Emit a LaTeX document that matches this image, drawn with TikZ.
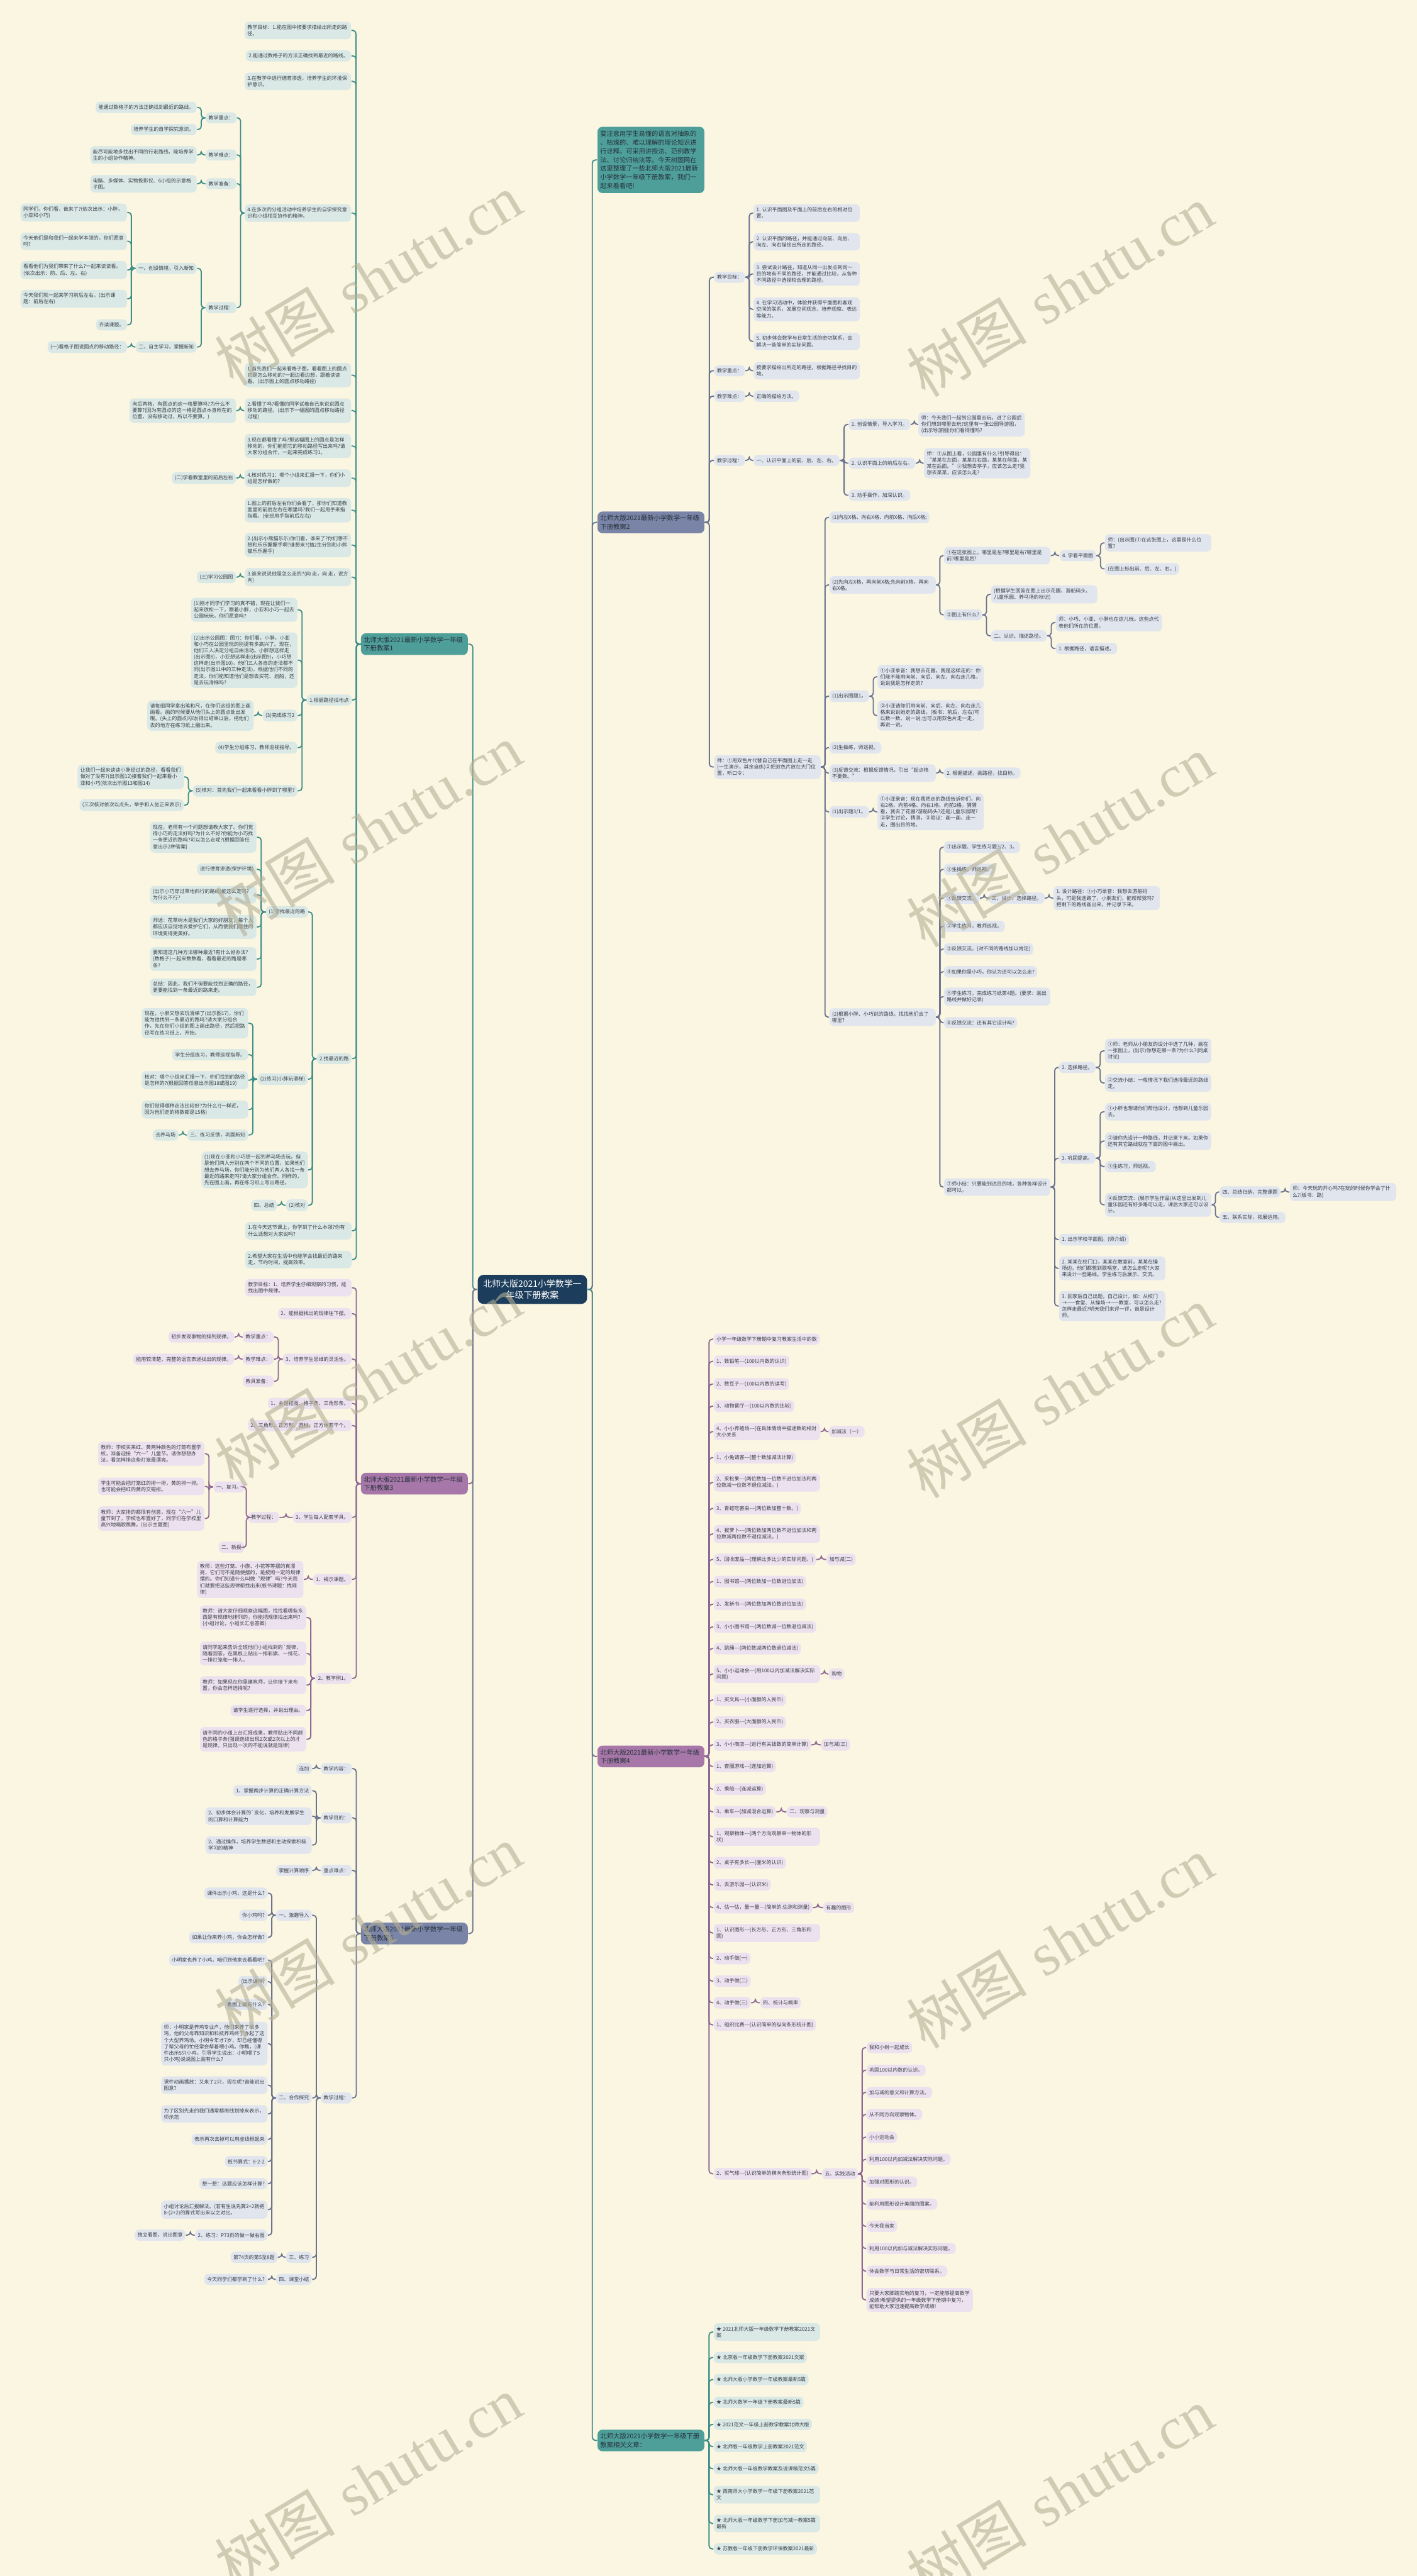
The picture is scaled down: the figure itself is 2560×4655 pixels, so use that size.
\documentclass[tikz,border=0pt]{standalone}
\usepackage{fontspec}
\usetikzlibrary{calc}
\newfontfamily\cjk{Noto Sans CJK SC}
\newfontfamily\wmserif{Liberation Serif}
\XeTeXlinebreaklocale "zh"
\XeTeXlinebreakskip=0pt plus 0.4pt
\definecolor{bgc}{HTML}{FAF6E2}
\definecolor{tealL}{HTML}{DAE8E6}
\definecolor{slateL}{HTML}{E1E5EE}
\definecolor{purpL}{HTML}{ECE1EE}
\definecolor{tealD}{HTML}{3D8E89}
\definecolor{slateD}{HTML}{6A7390}
\definecolor{purpD}{HTML}{8E6893}
\definecolor{hubTc}{HTML}{4E9F9A}
\definecolor{hubSc}{HTML}{7A84A6}
\definecolor{hubPc}{HTML}{A677A8}
\definecolor{ctrc}{HTML}{1C3D5B}
\definecolor{txt}{HTML}{3A3F47}
\definecolor{hubtxt}{HTML}{28323C}
\definecolor{wmc}{HTML}{B5B096}
\newcommand\lf{\cjk\fontsize{2.58pt}{3.27pt}\selectfont}
\newcommand\hf{\cjk\fontsize{3.35pt}{4.3pt}\selectfont}
\newcommand\fitt[1]{\setbox0=\hbox{#1}\ifdim\wd0>1.82cm\relax\parbox{1.82cm}{\raggedright\XeTeXlinebreaklocale "zh"\XeTeXlinebreakskip=0pt plus 0.4pt\relax #1}\else\box0\fi}
\newcommand\mmn[6]{\node[#1,anchor=#2] (#3) at (#4,#5) {\fitt{#6}};}
\newcommand\mml[5]{\mmn{#1}{east}{#2}{#3}{#4}{#5}}
\newcommand\mmr[5]{\mmn{#1}{west}{#2}{#3}{#4}{#5}}
\newcommand\edL[3]{\draw[#1] (#2.west) -- ($(#2.west)!.5!(#2.west-|#3.east)$) |- (#3.east);}
\newcommand\edR[3]{\draw[#1] (#2.east) -- ($(#2.east)!.5!(#2.east-|#3.west)$) |- (#3.west);}
\tikzset{
  base/.style={rounded corners=2.2pt, inner xsep=0.05cm, inner ysep=0.058cm, font=\lf, text=txt},
  T/.style={base, fill=tealL},
  S/.style={base, fill=slateL},
  P/.style={base, fill=purpL},
  lT/.style={draw=tealD, line width=0.6pt, rounded corners=1.6pt},
  lS/.style={draw=slateD, line width=0.6pt, rounded corners=1.6pt},
  lP/.style={draw=purpD, line width=0.6pt, rounded corners=1.6pt},
  hub/.style={rounded corners=2.5pt, inner xsep=0.05cm, inner ysep=0.065cm, font=\hf, text=hubtxt, align=left, text width=1.83cm},
  hubT/.style={hub, fill=hubTc},
  hubS/.style={hub, fill=hubSc},
  hubP/.style={hub, fill=hubPc},
  wm/.style={rotate=31, text=wmc, opacity=0.6, font=\fontsize{31pt}{31pt}\selectfont}
}
\begin{document}
\begin{tikzpicture}[x=0.01cm,y=-0.01cm]
\useasboundingbox (0,0) rectangle (2560,4655);
\fill[bgc] (0,0) rectangle (2560,4655);

% ---------- centre ----------
\node[fill=ctrc, text=white, rounded corners=3pt, inner xsep=0.1cm, inner ysep=0.09cm, align=center, font=\cjk\fontsize{4.5pt}{5.6pt}\selectfont] (ctr) at (962,2330) {北师大版2021小学数学一\\年级下册教案};

% ---------- hubs ----------
\node[hubT,anchor=east] (h1) at (846,1164) {北师大版2021最新小学数学一年级\\下册教案1};
\node[hubP,anchor=east] (h3) at (846,2681) {北师大版2021最新小学数学一年级\\下册教案3};
\node[hubS,anchor=east] (h5) at (846,3494) {北师大版2021最新小学数学一年级\\下册教案5};
\node[hubT,anchor=west,font=\cjk\fontsize{3.3pt}{4.45pt}\selectfont,inner ysep=0.075cm] (intro) at (1079,289) {要注意用学生易懂的语言对抽象的\\、枯燥的、难以理解的理论知识进\\行诠释。可采用讲授法、范例教学\\法、讨论归纳法等。今天树图网在\\这里整理了一些北师大版2021最新\\小学数学一年级下册教案，我们一\\起来看看吧!};
\node[hubS,anchor=west] (h2) at (1079,944) {北师大版2021最新小学数学一年级\\下册教案2};
\node[hubP,anchor=west] (h4) at (1079,3174) {北师大版2021最新小学数学一年级\\下册教案4};
\node[hubT,anchor=west] (h6) at (1079,4410) {北师大版2021小学数学一年级下册\\教案相关文章：};

\edL{lT}{ctr}{h1}
\edL{lP}{ctr}{h3}
\edL{lS}{ctr}{h5}
\edR{lT}{ctr}{intro}
\edR{lS}{ctr}{h2}
\edR{lP}{ctr}{h4}
\edR{lT}{ctr}{h6}

% ---------- 教案1 (left, teal) ----------
\mml{T}{A1}{635}{55}{教学目标：1.能在图中按要求描绘出所走的路径。}
\mml{T}{A2}{635}{101}{2.能通过数格子的方法正确找到最近的路线。}
\mml{T}{A3}{635}{147}{3.在教学中进行德育渗透，培养学生的环境保护意识。}
\mml{T}{A4}{635}{385}{4.在多次的分组活动中培养学生的自学探究意识和小组相互协作的精神。}
\mml{T}{Ab1}{428}{213}{教学重点：}
\mml{T}{Ac1}{356}{194}{能通过数格子的方法正确找到最近的路线。}
\mml{T}{Ac2}{356}{234}{培养学生的自学探究意识。}
\mml{T}{Ab2}{428}{280}{教学难点：}
\mml{T}{Ac3}{356}{280}{能尽可能地多找出不同的行走路线。能培养学生的小组协作精神。}
\mml{T}{Ab3}{428}{332}{教学准备：}
\mml{T}{Ac4}{356}{332}{电脑、多媒体、实物投影仪、6小组的示意格子图。}
\mml{T}{Ab4}{428}{556}{教学过程：}
\mml{T}{Ac5}{356}{485}{一、创设情境，引入新知}
\mml{T}{Ac6}{356}{627}{二、自主学习，掌握新知}
\mml{T}{Ad1}{230}{384}{同学们，你们看，谁来了?(依次出示：小胖，小亚和小巧)}
\mml{T}{Ad2}{230}{436}{今天他们是和我们一起来学本领的，你们愿意吗?}
\mml{T}{Ad3}{230}{488}{看看他们为我们带来了什么?一起来读读看。(依次出示：前、后、左、右)}
\mml{T}{Ad4}{230}{540}{今天我们就一起来学习前后左右。(出示课题：前后左右)}
\mml{T}{Ad5}{230}{587}{齐读课题。}
\mml{T}{Ad6}{230}{627}{(一)看格子图说圆点的移动路径：}
\mml{T}{A5}{635}{678}{1.首先我们一起来看格子图。看看图上的圆点它是怎么移动的?一起边看边想，跟着读读看。(出示图上的圆点移动路径)}
\mml{T}{A6}{635}{742}{2.看懂了吗?看懂的同学试着自己来说说圆点移动的路径。(出示下一幅图的圆点移动路径过程)}
\mml{T}{A6c}{427}{742}{向后两格，有圆点的这一格要算吗?为什么不要算?(因为有圆点的这一格是圆点本身所在的位置，没有移动过，所以不要算。)}
\mml{T}{A7}{635}{806}{3.现在都看懂了吗?那这幅图上的圆点是怎样移动的，你们能把它的移动路径写出来吗?请大家分组合作，一起来完成练习1。}
\mml{T}{A8}{635}{864}{4.核对练习1：哪个小组来汇报一下，你们小组是怎样做的?}
\mml{T}{A8c}{427}{864}{(二)学看教室里的前后左右}
\mml{T}{A9}{635}{922}{1.图上的前后左右你们会看了，那你们知道教室里的前后左右在哪里吗?我们一起用手来指指看。(全班用手指前后左右)}
\mml{T}{A10}{635}{985}{2.(出示小熊猫乐乐)你们看，谁来了?你们想不想和乐乐握握手啊?谁想来?(抽2生分别和小熊猫乐乐握手)}
\mml{T}{A11}{635}{1043}{3.谁来说说他是怎么走的?(向 走，向 走，说方向)}
\mml{T}{A11c}{427}{1043}{(三)学习公园图}
\mml{T}{A12}{636}{1265}{1.根据路径找地点}
\mml{T}{Ae1}{538}{1102}{(1)刚才同学们学习的真不错，现在让我们一起来放松一下，跟着小胖，小亚和小巧一起去公园玩玩，你们愿意吗?}
\mml{T}{Ae2}{538}{1193}{(2)出示公园图：图7)：你们看，小胖，小亚和小巧在公园里玩的别提有多高兴了。现在，他们三人决定分组自由活动。小胖想这样走(出示图8)，小亚想这样走(出示图9)，小巧想这样走(出示图10)。他们三人各自的走法都不同(出示图11中的三种走法)，根据他们不同的走法，你们能知道他们是想去买花、划船，还是去玩滑梯吗?}
\mml{T}{Ae3}{538}{1293}{(3)完成练习2}
\mml{T}{Ae3c}{459}{1293}{请每组同学拿出笔和尺，在你们这组的图上画画看。画的时候要从他们头上的圆点处出发哦。(头上的圆点闪动)得出结果以后，把他们去的地方在练习纸上圈出来。}
\mml{T}{Ae4}{538}{1351}{(4)学生分组练习，教师巡视指导。}
\mml{T}{Ae5}{538}{1429}{(5)核对：首先我们一起来看看小胖到了哪里?}
\mml{T}{Af1}{333}{1404}{让我们一起来读读小胖经过的路径，看看我们做对了没有?(出示图12)接着我们一起来看小亚和小巧(依次出示图13和图14)}
\mml{T}{Af2}{333}{1455}{(三次核对依次以点头，举手和人坐正来表示)}
\mml{T}{A13}{636}{1913}{2.找最近的路}
\mml{T}{Ag1}{557}{1648}{(1)学找最近的路}
\mml{T}{Ag1a}{464}{1513}{现在，老师有一个问题想请教大家了。你们觉得小巧的走法好吗?为什么不好?你能为小巧找一条更近的路吗?可以怎么走呢?(根据回答任意出示2种答案)}
\mml{T}{Ag1b}{464}{1571}{进行德育渗透(保护环境)}
\mml{T}{Ag1c}{464}{1617}{(出示小巧穿过草地斜行的路线)能这么走吗?为什么不行?}
\mml{T}{Ag1d}{464}{1675}{师述：花草树木是我们大家的好朋友，每个人都应该自觉地去爱护它们，从而使我们居住的环境变得更美好。}
\mml{T}{Ag1e}{464}{1733}{要知道这几种方法哪种最近?有什么好办法?(数格子)一起来数数看，看看最近的路是哪条?}
\mml{T}{Ag1f}{464}{1784}{总结：因此，我们不但要能找到正确的路径，更要能找到一条最近的路来走。}
\mml{T}{Ag2}{557}{1950}{(2)练习(小胖玩滑梯)}
\mml{T}{Ag2a}{449}{1849}{现在，小胖又想去玩滑梯了(出示图17)，你们能为他找到一条最近的路吗?请大家分组合作，先在你们小组的图上画出路径，然后把路径写在练习纸上，开始。}
\mml{T}{Ag2b}{449}{1906}{学生分组练习，教师巡视指导。}
\mml{T}{Ag2c}{449}{1952}{核对：哪个小组来汇报一下，你们找到的路径是怎样的?(根据回答任意出示图18或图19)}
\mml{T}{Ag2d}{449}{2005}{你们觉得哪种走法比较好?为什么?(一样近，因为他们走的格数都是15格)}
\mml{T}{Ag2e}{449}{2051}{三、练习反馈，巩固新知}
\mml{T}{Ag2f}{323}{2051}{去养马场}
\mml{T}{Ag3}{557}{2114}{(1)现在小亚和小巧想一起到养马场去玩。但是他们两人分别在两个不同的位置，如果他们想去养马场，你们能分别为他们两人各找一条最近的路来走吗?请大家分组合作。同样的，先在图上画，再在练习纸上写出路径。}
\mml{T}{Ag4}{557}{2178}{(2)核对}
\mml{T}{Ag4c}{501}{2178}{四、总结}
\mml{T}{A14}{636}{2224}{1.在今天这节课上，你学到了什么本领?你有什么话想对大家说吗?}
\mml{T}{A15}{636}{2276}{2.希望大家在生活中也能学会找最近的路来走，节约时间，提高效率。}

\foreach \c in {A1,A2,A3,A4,A5,A6,A7,A8,A9,A10,A11,A12,A13,A14,A15}{\edL{lT}{h1}{\c}}
\foreach \c in {Ab1,Ab2,Ab3,Ab4}{\edL{lT}{A4}{\c}}
\edL{lT}{Ab1}{Ac1}\edL{lT}{Ab1}{Ac2}\edL{lT}{Ab2}{Ac3}\edL{lT}{Ab3}{Ac4}
\edL{lT}{Ab4}{Ac5}\edL{lT}{Ab4}{Ac6}
\foreach \c in {Ad1,Ad2,Ad3,Ad4,Ad5}{\edL{lT}{Ac5}{\c}}
\edL{lT}{Ac6}{Ad6}
\edL{lT}{A6}{A6c}\edL{lT}{A8}{A8c}\edL{lT}{A11}{A11c}
\foreach \c in {Ae1,Ae2,Ae3,Ae4,Ae5}{\edL{lT}{A12}{\c}}
\edL{lT}{Ae3}{Ae3c}\edL{lT}{Ae5}{Af1}\edL{lT}{Ae5}{Af2}
\foreach \c in {Ag1,Ag2,Ag3,Ag4}{\edL{lT}{A13}{\c}}
\foreach \c in {Ag1a,Ag1b,Ag1c,Ag1d,Ag1e,Ag1f}{\edL{lT}{Ag1}{\c}}
\foreach \c in {Ag2a,Ag2b,Ag2c,Ag2d,Ag2e}{\edL{lT}{Ag2}{\c}}
\edL{lT}{Ag2e}{Ag2f}\edL{lT}{Ag4}{Ag4c}

% ---------- 教案2 (right, slate) ----------
\mmr{S}{B1}{1290}{501}{教学目标：}
\mmr{S}{Bq1}{1361}{385}{1. 认识平面图及平面上的前后左右的相对位置。}
\mmr{S}{Bq2}{1361}{437}{2. 认识平面的路径，并能通过向前、向后、向左、向右描绘出所走的路径。}
\mmr{S}{Bq3}{1361}{495}{3. 尝试设计路径，知道从同一出发点到同一目的地有不同的路径，并能通过比较，从各种不同路径中选择较合理的路径。}
\mmr{S}{Bq4}{1361}{559}{4. 在学习活动中，体验并获得平面图和客观空间的联系，发展空间观念，培养观察、表达等能力。}
\mmr{S}{Bq5}{1361}{617}{5. 初步体会数学与日常生活的密切联系，会解决一些简单的实际问题。}
\mmr{S}{B2}{1290}{670}{教学重点：}
\mmr{S}{B2c}{1361}{670}{按要求描绘出所走的路径，根据路径寻找目的地。}
\mmr{S}{B3}{1290}{716}{教学难点：}
\mmr{S}{B3c}{1361}{716}{正确的描绘方法。}
\mmr{S}{B4}{1290}{832}{教学过程：}
\mmr{S}{Br1}{1361}{832}{一、认识平面上的前、后、左、右。}
\mmr{S}{Bs1}{1533}{767}{1. 创设情景，导入学习。}
\mmr{S}{Bs1c}{1659}{767}{师：今天我们一起到公园里去玩，进了公园后你们想到哪里去玩?这里有一张公园导游图，(出示导游图)你们看得懂吗?}
\mmr{S}{Bs2}{1533}{837}{2. 认识平面上的前后左右。}
\mmr{S}{Bs2c}{1669}{837}{师：①从图上看，公园里有什么?引导得出：“某某在左面，某某在右面，某某在前面，某某在后面。”②我想去亭子，应该怎么走?我想去某某，应该怎么走?}
\mmr{S}{Bs3}{1533}{895}{3. 动手操作，加深认识。}
\mmr{S}{B5}{1290}{1386}{师：①用双色片代替自己在平面图上走一走(一生演示，其余自练)②把双色片放在大门位置，听口令：}
\mmr{S}{Bt1}{1498}{935}{(1)向左X格、向右X格、向前X格、向后X格;}
\mmr{S}{Bt2}{1498}{1057}{(2)先向左X格，再向前X格;先向前X格，再向右X格。}
\mmr{S}{Bu1}{1705}{1004}{①在这张图上，哪里是左?哪里是右?哪里是前?哪里是后?}
\mmr{S}{Bu1c}{1914}{1004}{4. 学看平面图}
\mmr{S}{Bv1}{1996}{981}{师：(出示图)①在这张图上，这里是什么位置?}
\mmr{S}{Bv2}{1996}{1028}{(在图上标出前、后、左、右。)}
\mmr{S}{Bu2}{1705}{1111}{②图上有什么?}
\mmr{S}{Bw1}{1790}{1074}{(根据学生回答在图上出示花圃、游船码头、儿童乐园、养马场的标记)}
\mmr{S}{Bw2}{1790}{1149}{二、认识、描述路径。}
\mmr{S}{Bx1}{1907}{1125}{师：小巧、小亚、小胖也在这儿玩。这些点代表他们所在的位置。}
\mmr{S}{Bx2}{1907}{1172}{1. 根据路径，语言描述。}
\mmr{S}{Bt3}{1498}{1258}{(1)出示图题1。}
\mmr{S}{By1}{1585}{1223}{①小亚录音：我想去花圃，我是这样走的：你们能不能用向前、向后、向左、向右走几格，说说我是怎样走的?}
\mmr{S}{By2}{1585}{1293}{②小亚请你们用向前、向后、向左、向右走几格来说说她走的路线。(板书：前后，左右)可以数一数、说一说;也可以用双色片走一走，再说一说。}
\mmr{S}{Bt4}{1498}{1351}{(2)生操练，师巡视。}
\mmr{S}{Bt5}{1498}{1397}{(3)反馈交流：根据反馈情况，引出“起点格不要数。”}
\mmr{S}{Bt5c}{1705}{1397}{2. 根据描述，画路径，找目标。}
\mmr{S}{Bt6}{1498}{1467}{(1)出示题3/1。}
\mmr{S}{Bt6c}{1585}{1467}{①小亚录音：现在我把走的路线告诉你们，向右2格、向前4格、向右1格、向前2格。猜猜看，我去了花圃?游船码头?还是儿童乐园呢?②学生讨论，猜测。③验证：画一画、走一走，圈出目的地。}
\mmr{S}{Bt7}{1498}{1838}{(2)根据小胖、小巧说的路线，找找他们去了哪里?}
\mmr{S}{Bz1}{1705}{1531}{①出示题、学生练习题3/2、3。}
\mmr{S}{Bz2}{1705}{1571}{②生操练，师巡视。}
\mmr{S}{Bz3}{1705}{1623}{③反馈交流。}
\mmr{S}{Bz3a}{1786}{1623}{三、设计、选择路径。}
\mmr{S}{Bz3b}{1903}{1623}{1. 设计路径：①小巧录音：我想去游船码头，可是我迷路了，小朋友们，能帮帮我吗? 把剩下的路线画出来，并记录下来。}
\mmr{S}{Bz4}{1705}{1674}{②学生练习，教师巡视。}
\mmr{S}{Bz5}{1705}{1715}{③反馈交流。(对不同的路线加以肯定)}
\mmr{S}{Bz6}{1705}{1756}{④如果你是小巧，你认为还可以怎么走?}
\mmr{S}{Bz7}{1705}{1801}{⑤学生练习，完成练习纸第4题。(要求：画出路线并做好记录)}
\mmr{S}{Bz8}{1705}{1848}{⑥反馈交流：还有其它设计吗?}
\mmr{S}{Bz9}{1705}{2145}{⑦师小结：只要能到达目的地，各种各样设计都可以。}
\mmr{S}{Ba1}{1913}{1929}{2. 选择路径。}
\mmr{S}{Ba1a}{1996}{1899}{①师：老师从小朋友的设计中选了几种，画在一张图上，(出示)你想走哪一条?为什么?(同桌讨论)}
\mmr{S}{Ba1b}{1996}{1957}{②交流小结：一般情况下我们选择最近的路线走。}
\mmr{S}{Ba2}{1913}{2093}{3. 巩固提高。}
\mmr{S}{Bb1}{1996}{2009}{①小胖也想请你们帮他设计，他想到儿童乐园去。}
\mmr{S}{Bb2}{1996}{2062}{②请你先设计一种路线，并记录下来。如果你还有其它路线就在下面的图中画出。}
\mmr{S}{Bb3}{1996}{2108}{③生练习，师巡视。}
\mmr{S}{Bb4}{1996}{2177}{④反馈交流：(展示学生作品)从这里出发到儿童乐园还有好多路可以走，课后大家还可以设计。}
\mmr{S}{Bc1}{2203}{2154}{四、总结归纳，完整课题}
\mmr{S}{Bc1c}{2330}{2154}{师：今天玩的开心吗?在玩的时候你学会了什么?(板书：路)}
\mmr{S}{Bc2}{2203}{2200}{五、联系实际，拓展运用。}
\mmr{S}{Ba3}{1913}{2240}{1. 出示学校平面图。(师介绍)}
\mmr{S}{Ba4}{1913}{2292}{2. 某某在校门口，某某在教室前，某某在操场边。他们都想到歌唱室，该怎么走呢?大家来设计一些路线。学生练习后展示、交流。}
\mmr{S}{Ba5}{1913}{2360}{3. 回家后自己出题，自己设计。如：从校门→——食堂、从操场→——教室，可以怎么走?怎样走最近?明天我们来评一评，谁是设计师。}

\foreach \c in {B1,B2,B3,B4,B5}{\edR{lS}{h2}{\c}}
\foreach \c in {Bq1,Bq2,Bq3,Bq4,Bq5}{\edR{lS}{B1}{\c}}
\edR{lS}{B2}{B2c}\edR{lS}{B3}{B3c}\edR{lS}{B4}{Br1}
\foreach \c in {Bs1,Bs2,Bs3}{\edR{lS}{Br1}{\c}}
\edR{lS}{Bs1}{Bs1c}\edR{lS}{Bs2}{Bs2c}
\foreach \c in {Bt1,Bt2,Bt3,Bt4,Bt5,Bt6,Bt7}{\edR{lS}{B5}{\c}}
\edR{lS}{Bt2}{Bu1}\edR{lS}{Bt2}{Bu2}\edR{lS}{Bu1}{Bu1c}
\edR{lS}{Bu1c}{Bv1}\edR{lS}{Bu1c}{Bv2}
\edR{lS}{Bu2}{Bw1}\edR{lS}{Bu2}{Bw2}\edR{lS}{Bw2}{Bx1}\edR{lS}{Bw2}{Bx2}
\edR{lS}{Bt3}{By1}\edR{lS}{Bt3}{By2}\edR{lS}{Bt5}{Bt5c}\edR{lS}{Bt6}{Bt6c}
\foreach \c in {Bz1,Bz2,Bz3,Bz4,Bz5,Bz6,Bz7,Bz8,Bz9}{\edR{lS}{Bt7}{\c}}
\edR{lS}{Bz3}{Bz3a}\edR{lS}{Bz3a}{Bz3b}
\foreach \c in {Ba1,Ba2,Ba3,Ba4,Ba5}{\edR{lS}{Bz9}{\c}}
\edR{lS}{Ba1}{Ba1a}\edR{lS}{Ba1}{Ba1b}
\foreach \c in {Bb1,Bb2,Bb3,Bb4}{\edR{lS}{Ba2}{\c}}
\edR{lS}{Bb4}{Bc1}\edR{lS}{Bb4}{Bc2}\edR{lS}{Bc1}{Bc1c}

% ---------- 教案3 (left, purple) ----------
\mml{P}{C1}{636}{2327}{教学目标：1、培养学生仔细观察的习惯，能找出图中规律。}
\mml{P}{C2}{636}{2374}{2、能根据找出的规律往下摆。}
\mml{P}{C3}{636}{2456}{3、培养学生思维的灵活性。}
\mml{P}{Cm1}{495}{2416}{教学重点：}
\mml{P}{Cm1c}{424}{2416}{初步发现事物的排列规律。}
\mml{P}{Cm2}{495}{2456}{教学难点：}
\mml{P}{Cm2c}{424}{2456}{能用较清楚、完整的语言表述找出的规律。}
\mml{P}{Cm3}{495}{2496}{教具准备：}
\mml{P}{C4}{636}{2536}{1、主题挂图、格子条、三角形条。}
\mml{P}{C5}{636}{2576}{2、三角形、正方形、圆柱、正方体若干个。}
\mml{P}{C6}{636}{2742}{3、学生每人配套学具。}
\mml{P}{C6c}{505}{2742}{教学过程：}
\mml{P}{Cn1}{442}{2687}{一、复习。}
\mml{P}{Cn1a}{370}{2627}{教师：学校买来红、黄两种颜色的灯笼布置学校，准备迎接“六一”儿童节。请你想想办法，看怎样排这些灯笼最漂亮。}
\mml{P}{Cn1b}{370}{2686}{学生可能会把灯笼红的排一排，黄的排一排。也可能会把红的黄的交错排。}
\mml{P}{Cn1c}{370}{2744}{教师：大家排的都很有创意，现在“六一”儿童节到了，学校也布置好了，同学们在学校里高兴地唱歌跳舞。(出示主题图)}
\mml{P}{Cn2}{442}{2796}{二、新授}
\mml{P}{C7}{636}{2854}{1、揭示课题。}
\mml{P}{C7c}{549}{2854}{教师：这些灯笼、小旗、小花等等摆的真漂亮，它们可不是随便摆的，是按照一定的规律摆的。你们知道什么叫做“规律”吗?今天我们就要把这些规律都找出来(板书课题：找规律)}
\mml{P}{C8}{636}{3033}{2、教学例1。}
\mml{P}{C8a}{554}{2923}{教师：请大家仔细观察这幅图，找找看哪些东西是有规律地排列的，你能把规律找出来吗?(小组讨论，小组长汇总答案)}
\mml{P}{C8b}{554}{2988}{请同学起来告诉全班他们小组找到的`规律，随着回答，在黑板上贴出一排彩旗、一排花、一排灯笼和一排人。}
\mml{P}{C8c}{554}{3045}{教师：如果现在你是建筑师，让你接下来布置，你会怎样选择呢?}
\mml{P}{C8d}{554}{3091}{请学生逐行选择，并说出理由。}
\mml{P}{C8e}{554}{3143}{请不同的小组上台汇报成果，教师贴出不同颜色的格子条(强调连续出现2次或2次以上的才是规律，只出现一次的不能说就是规律)}

\foreach \c in {C1,C2,C3,C4,C5,C6,C7,C8}{\edL{lP}{h3}{\c}}
\foreach \c in {Cm1,Cm2,Cm3}{\edL{lP}{C3}{\c}}
\edL{lP}{Cm1}{Cm1c}\edL{lP}{Cm2}{Cm2c}
\edL{lP}{C6}{C6c}\edL{lP}{C6c}{Cn1}\edL{lP}{C6c}{Cn2}
\foreach \c in {Cn1a,Cn1b,Cn1c}{\edL{lP}{Cn1}{\c}}
\edL{lP}{C7}{C7c}
\foreach \c in {C8a,C8b,C8c,C8d,C8e}{\edL{lP}{C8}{\c}}

% ---------- 教案5 (left, slate) ----------
\mml{S}{E1}{636}{3196}{教学内容：}
\mml{S}{E1c}{564}{3196}{连加}
\mml{S}{E2}{636}{3285}{教学目的：}
\mml{S}{E2a}{564}{3236}{1、掌握两步计算的正确计算方法}
\mml{S}{E2b}{564}{3282}{2、初步体会计算的`变化，培养和发展学生的口算和计算能力}
\mml{S}{E2c}{564}{3334}{2、通过操作，培养学生数感和主动探索积极学习的精神}
\mml{S}{E3}{636}{3380}{重点难点：}
\mml{S}{E3c}{564}{3380}{掌握计算顺序}
\mml{S}{E4}{636}{3791}{教学过程：}
\mml{S}{Ep1}{564}{3461}{一、激趣导入}
\mml{S}{Ep1a}{484}{3421}{课件出示小鸡，这是什么?}
\mml{S}{Ep1b}{484}{3461}{你小鸡吗?}
\mml{S}{Ep1c}{484}{3501}{如果让你来养小鸡，你会怎样做?}
\mml{S}{Ep2}{564}{3791}{二、合作探究}
\mml{S}{Eq1}{484}{3542}{小明家也养了小鸡，咱们到他家去看看吧?}
\mml{S}{Eq2}{484}{3581}{(出示课件)}
\mml{S}{Eq3}{484}{3622}{看图上画有什么?}
\mml{S}{Eq4}{484}{3693}{师：小明家是养鸡专业户，他们家养了很多鸡，他的父母靠知识和科技养鸡终于办起了这个大型养鸡场。小明今年才7岁，却已经懂得了帮父母的忙经常会帮着喂小鸡。你瞧，(课件出示5只小鸡，引导学生说出：小明喂了5只小鸡)说说图上画有什么?}
\mml{S}{Eq5}{484}{3768}{课件动画播放：又来了2只，现在呢?谁能说出图意?}
\mml{S}{Eq6}{484}{3820}{为了区别先走的我们通常都用线划掉来表示，师示范}
\mml{S}{Eq7}{484}{3866}{表示再次去掉可以用虚线框起来}
\mml{S}{Eq8}{484}{3906}{板书算式：8-2-2}
\mml{S}{Eq9}{484}{3946}{想一想：这题应该怎样计算?}
\mml{S}{Eq10}{484}{3993}{小组讨论后汇报解法。(若有生说先算2+2就把8-(2+2)的算式写出来以之对比。}
\mml{S}{Eq11}{484}{4039}{2、练习：P73页的做一做右图}
\mml{S}{Eq11c}{336}{4039}{独立看图，说出图意}
\mml{S}{Ep3}{564}{4079}{三、练习}
\mml{S}{Ep3c}{502}{4079}{第74页的第5至8题}
\mml{S}{Ep4}{564}{4119}{四、课堂小结}
\mml{S}{Ep4c}{484}{4119}{今天同学们都学到了什么?}

\foreach \c in {E1,E2,E3,E4}{\edL{lS}{h5}{\c}}
\edL{lS}{E1}{E1c}\edL{lS}{E3}{E3c}
\foreach \c in {E2a,E2b,E2c}{\edL{lS}{E2}{\c}}
\foreach \c in {Ep1,Ep2,Ep3,Ep4}{\edL{lS}{E4}{\c}}
\foreach \c in {Ep1a,Ep1b,Ep1c}{\edL{lS}{Ep1}{\c}}
\foreach \c in {Eq1,Eq2,Eq3,Eq4,Eq5,Eq6,Eq7,Eq8,Eq9,Eq10,Eq11}{\edL{lS}{Ep2}{\c}}
\edL{lS}{Eq11}{Eq11c}\edL{lS}{Ep3}{Ep3c}\edL{lS}{Ep4}{Ep4c}

% ---------- 教案4 (right, purple) ----------
\mmr{P}{D1}{1289}{2420}{小学一年级数学下册期中复习教案生活中的数}
\mmr{P}{D2}{1289}{2460}{1、数铅笔---(100以内数的认识)}
\mmr{P}{D3}{1289}{2501}{2、数豆子---(100以内数的读写)}
\mmr{P}{D4}{1289}{2541}{3、动物餐厅---(100以内数的比较)}
\mmr{P}{D5}{1289}{2587}{4、小小养殖场---(在具体情境中描述数的相对大小关系}
\mmr{P}{D5c}{1497}{2587}{加减法（一）}
\mmr{P}{D6}{1289}{2634}{1、小兔请客---(整十数加减法计算)}
\mmr{P}{D7}{1289}{2679}{2、采松果---(两位数加一位数不进位加法和两位数减一位数不退位减法。)}
\mmr{P}{D8}{1289}{2726}{3、青蛙吃害虫---(两位数加整十数。)}
\mmr{P}{D9}{1289}{2772}{4、拔萝卜---(两位数加两位数不进位加法和两位数减两位数不退位减法。)}
\mmr{P}{D10}{1289}{2818}{5、回收废品---(理解比多比少的实际问题。)}
\mmr{P}{D10c}{1493}{2818}{加与减(二)}
\mmr{P}{D11}{1289}{2858}{1、图书馆---(两位数加一位数进位加法)}
\mmr{P}{D12}{1289}{2899}{2、发新书---(两位数加两位数进位加法)}
\mmr{P}{D13}{1289}{2940}{3、小小图书馆---(两位数减一位数退位减法)}
\mmr{P}{D14}{1289}{2979}{4、跳绳---(两位数减两位数退位减法)}
\mmr{P}{D15}{1289}{3025}{5、小小运动会---(用100以内加减法解决实际问题)}
\mmr{P}{D15c}{1497}{3025}{购物}
\mmr{P}{D16}{1289}{3072}{1、买文具---(小面额的人民币)}
\mmr{P}{D17}{1289}{3112}{2、买衣服---(大面额的人民币)}
\mmr{P}{D18}{1289}{3153}{3、小小商店---(进行有关钱数的简单计算)}
\mmr{P}{D18c}{1483}{3153}{加与减(三)}
\mmr{P}{D19}{1289}{3192}{1、套圈游戏---(连加运算)}
\mmr{P}{D20}{1289}{3233}{2、乘船---(连减运算)}
\mmr{P}{D21}{1289}{3274}{3、乘车---(加减混合运算)}
\mmr{P}{D21c}{1421}{3274}{二、观察与测量}
\mmr{P}{D22}{1289}{3319}{1、观察物体---(两个方向观察单一物体的形状)}
\mmr{P}{D23}{1289}{3366}{2、桌子有多长---(厘米的认识)}
\mmr{P}{D24}{1289}{3406}{3、去游乐园---(认识米)}
\mmr{P}{D25}{1289}{3447}{4、估一估，量一量---(简单的.估测和测量)}
\mmr{P}{D25c}{1487}{3447}{有趣的图形}
\mmr{P}{D26}{1289}{3493}{1、认识图形---(长方形、正方形、三角形和圆)}
\mmr{P}{D27}{1289}{3539}{2、动手做(一)}
\mmr{P}{D28}{1289}{3580}{3、动手做(二)}
\mmr{P}{D29}{1289}{3619}{4、动手做(三)}
\mmr{P}{D29c}{1373}{3619}{四、统计与概率}
\mmr{P}{D30}{1289}{3659}{1、组织比赛---(认识简单的纵向条形统计图)}
\mmr{P}{D31}{1289}{3928}{2、买气球---(认识简单的横向条形统计图)}
\mmr{P}{D31c}{1485}{3928}{五、实践活动}
\mmr{P}{Dk1}{1565}{3700}{我和小树一起成长}
\mmr{P}{Dk2}{1565}{3741}{巩固100以内数的认识。}
\mmr{P}{Dk3}{1565}{3781}{加与减的意义和计算方法。}
\mmr{P}{Dk4}{1565}{3821}{从不同方向观察物体。}
\mmr{P}{Dk5}{1565}{3862}{小小运动会}
\mmr{P}{Dk6}{1565}{3902}{利用100以内加减法解决实际问题。}
\mmr{P}{Dk7}{1565}{3943}{加强对图形的认识。}
\mmr{P}{Dk8}{1565}{3983}{能利用图形设计美丽的图案。}
\mmr{P}{Dk9}{1565}{4023}{今天我当家}
\mmr{P}{Dk10}{1565}{4063}{利用100以内加与减法解决实际问题。}
\mmr{P}{Dk11}{1565}{4104}{体会数学与日常生活的密切联系。}
\mmr{P}{Dk12}{1565}{4156}{只要大家脚踏实地的复习，一定能够提高数学成绩!希望提供的一年级数学下册期中复习，能帮助大家迅速提高数学成绩!}

\foreach \c in {D1,D2,D3,D4,D5,D6,D7,D8,D9,D10,D11,D12,D13,D14,D15,D16,D17,D18,D19,D20,D21,D22,D23,D24,D25,D26,D27,D28,D29,D30,D31}{\edR{lP}{h4}{\c}}
\edR{lP}{D5}{D5c}\edR{lP}{D10}{D10c}\edR{lP}{D15}{D15c}\edR{lP}{D18}{D18c}
\edR{lP}{D21}{D21c}\edR{lP}{D25}{D25c}\edR{lP}{D29}{D29c}\edR{lP}{D31}{D31c}
\foreach \c in {Dk1,Dk2,Dk3,Dk4,Dk5,Dk6,Dk7,Dk8,Dk9,Dk10,Dk11,Dk12}{\edR{lP}{D31c}{\c}}

% ---------- related articles (right, teal) ----------
\mmr{T}{F1}{1289}{4214}{★ 2021北师大版一年级数学下册教案2021文案}
\mmr{T}{F2}{1289}{4260}{★ 北京版一年级数学下册教案2021文案}
\mmr{T}{F3}{1289}{4300}{★ 北师大版小学数学一年级教案最新5篇}
\mmr{T}{F4}{1289}{4341}{★ 北师大数学一年级下册教案最新5篇}
\mmr{T}{F5}{1289}{4381}{★ 2021范文一年级上册数学教案北师大版}
\mmr{T}{F6}{1289}{4421}{★ 北师版一年级数学上册教案2021范文}
\mmr{T}{F7}{1289}{4461}{★ 北师大版一年级数学教案及说课稿范文5篇}
\mmr{T}{F8}{1289}{4508}{★ 西南师大小学数学一年级下册教案2021范文}
\mmr{T}{F9}{1289}{4560}{★ 北师大版一年级数学下册加与减一教案5篇最新}
\mmr{T}{F10}{1289}{4606}{★ 苏教版一年级下册数学环保教案2021最新}
\foreach \c in {F1,F2,F3,F4,F5,F6,F7,F8,F9,F10}{\edR{lT}{h6}{\c}}

% ---------- watermarks ----------
\foreach \y in {505,1500,2495,3490,4485}{\node[wm] (wmL\y) at (665,\y) {{\cjk 树图} {\wmserif shutu.cn}};}
\foreach \y in {525,1520,2515,3510,4505}{\node[wm] (wmR\y) at (1915,\y) {{\cjk 树图} {\wmserif shutu.cn}};}
\end{tikzpicture}
\end{document}
